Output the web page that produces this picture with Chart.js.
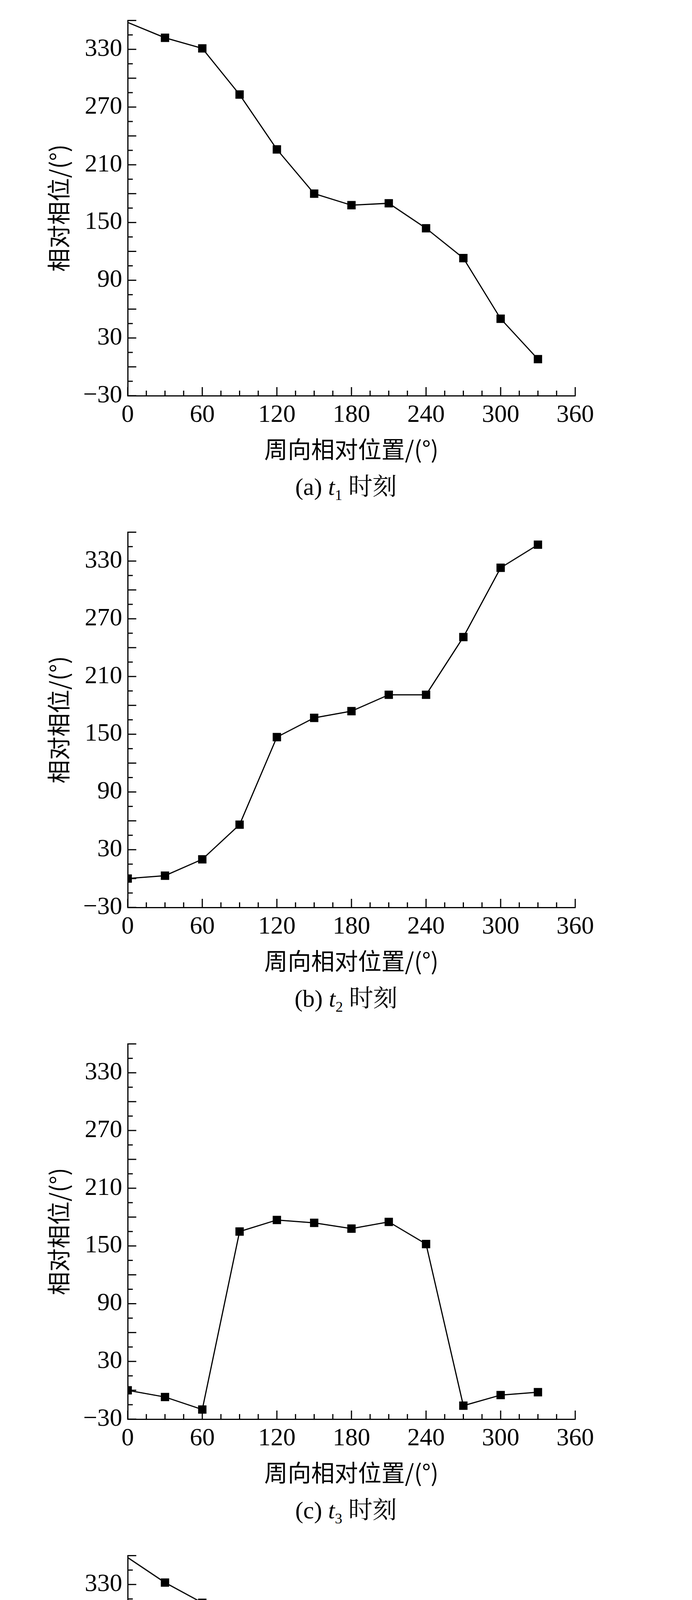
<!DOCTYPE html>
<html><head><meta charset="utf-8">
<script src="https://cdn.jsdelivr.net/npm/chart.js@4"></script>
<style>
body{margin:0;background:#fff;width:1772px}
.blk{width:1772px;height:1310px;position:relative}
canvas{display:block}
.cap{position:absolute;left:0;top:1196px;width:1772px;text-align:center;font:62px "Liberation Serif","Noto Serif CJK SC","Noto Sans CJK SC";line-height:100px}
</style></head><body>
<div id="wrap"></div>
<script>
const posiciones = [0, 30, 60, 90, 120, 150, 180, 210, 240, 270, 300, 330];
const faseT1 = [358, 342, 331, 283, 226, 180, 168, 170, 144, 113, 50, 8];
const faseT2 = [0, 3, 20, 56, 147, 167, 174, 191, 191, 251, 323, 347];
const faseT3 = [0, -7, -20, 165, 177, 174, 168, 175, 152, -16, -5, -2];
const faseT4 = [358, 332, 311, 263, 241, 198, 169, 157, 206, 236, 62, 22];
const etiquetas = ["a", "b", "c", "d"];
const sinMarcaInicial = [true, false, false, true];
const series = [faseT1, faseT2, faseT3, faseT4];

const ticksInternos = {
  id: "ticksInternos",
  afterDraw(chart) {
    const ctx = chart.ctx, x = chart.scales.x, y = chart.scales.y;
    ctx.save();
    ctx.strokeStyle = "#000";
    ctx.lineWidth = 3;
    for (let v = 0; v <= 360; v += 15) {
      const px = x.getPixelForValue(v), len = v % 60 === 0 ? 22 : 13;
      ctx.beginPath(); ctx.moveTo(px, y.bottom); ctx.lineTo(px, y.bottom - len); ctx.stroke();
    }
    for (let v = -30; v <= 360; v += 15) {
      const py = y.getPixelForValue(v), len = v % 30 === 0 ? 22 : 13;
      ctx.beginPath(); ctx.moveTo(x.left, py); ctx.lineTo(x.left + len, py); ctx.stroke();
    }
    ctx.restore();
  }
};

const fuente = { family: "'Liberation Serif', serif", size: 64 };
const fuenteCJK = { family: "'Noto Sans CJK SC'", size: 60 };
const wrap = document.getElementById("wrap");

series.forEach((datos, i) => {
  const blk = document.createElement("div");
  blk.className = "blk";
  const cv = document.createElement("canvas");
  cv.width = 1772; cv.height = 1190;
  cv.style.width = "1772px"; cv.style.height = "1190px";
  blk.appendChild(cv);
  const cap = document.createElement("div");
  cap.className = "cap";
  cap.innerHTML = `(${etiquetas[i]}) <i>t</i><sub style="font-size:38px">${i + 1}</sub> 时刻`;
  blk.appendChild(cap);
  wrap.appendChild(blk);

  new Chart(cv, {
    type: "line",
    data: {
      datasets: [{
        data: posiciones.map((p, j) => ({ x: p, y: datos[j] })),
        borderColor: "#000",
        backgroundColor: "#000",
        borderWidth: 3,
        pointStyle: "rect",
        pointRadius: posiciones.map((_, j) => (j === 0 && sinMarcaInicial[i]) ? 0 : 13),
        tension: 0
      }]
    },
    options: {
      responsive: false,
      animation: false,
      devicePixelRatio: 1,
      layout: { padding: { left: 110, top: 41, right: 299, bottom: 0 } },
      plugins: { legend: { display: false }, tooltip: { enabled: false } },
      scales: {
        x: {
          type: "linear", min: 0, max: 360,
          afterBuildTicks: s => { s.ticks = [0, 60, 120, 180, 240, 300, 360].map(v => ({ value: v })); },
          afterFit: s => { s.height = 177; },
          grid: { display: false, drawTicks: false },
          border: { display: true, color: "#000", width: 3 },
          ticks: { color: "#000", font: fuente, maxRotation: 0, padding: 12 },
          title: { display: true, text: "周向相对位置/(°)", color: "#000", font: fuenteCJK, padding: { top: 4 } }
        },
        y: {
          min: -30, max: 360,
          afterBuildTicks: s => { const t = []; for (let v = -30; v <= 360; v += 30) t.push({ value: v }); s.ticks = t; },
          afterFit: s => { s.width = 217; },
          grid: { display: false, drawTicks: false },
          border: { display: true, color: "#000", width: 3 },
          ticks: { color: "#000", font: fuente, padding: 14, callback: v => v < 0 ? "\u2212" + Math.abs(v) : v },
          title: { display: true, text: "相对相位/(°)", color: "#000", font: fuenteCJK, padding: { bottom: 0 } }
        }
      }
    },
    plugins: [ticksInternos]
  });
});
</script>
</body></html>
